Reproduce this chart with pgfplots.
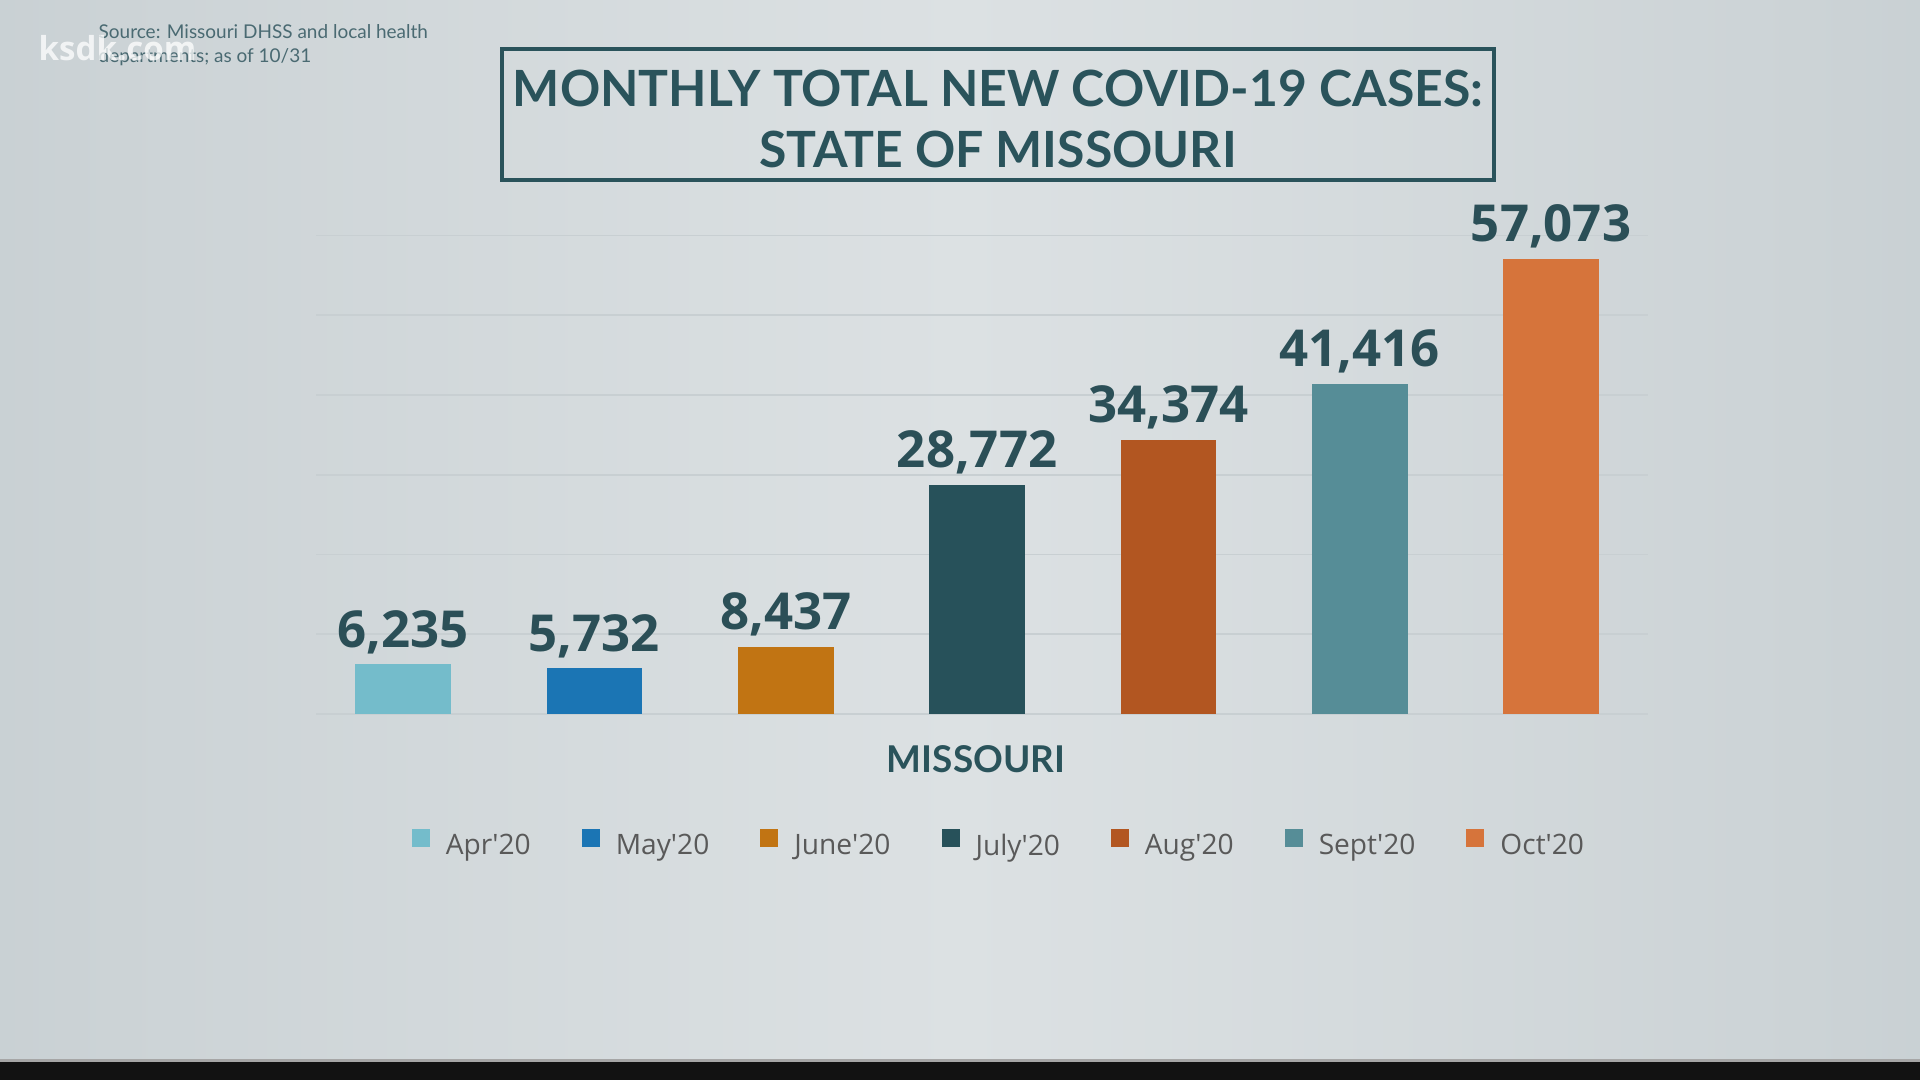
\documentclass[border=0pt]{standalone}
\usepackage{fontspec}
\setmainfont{Open Sans}
\newfontfamily\latofont{Lato}
\usepackage{pgfplots}
\pgfplotsset{compat=1.18}

\definecolor{bgA}{HTML}{A6B2B7}
\definecolor{bgB}{HTML}{B9C4C8}
\definecolor{bgC}{HTML}{CCD3D6}
\definecolor{bgD}{HTML}{DCE1E3}
\definecolor{gridc}{HTML}{C8CFD2}
\definecolor{titlec}{HTML}{2A535B}
\definecolor{lbl}{HTML}{2B4F57}
\definecolor{legtext}{HTML}{595959}
\definecolor{srcc}{HTML}{4A6A72}
\definecolor{cApr}{HTML}{74BCCB}
\definecolor{cMay}{HTML}{1B75B4}
\definecolor{cJun}{HTML}{C17413}
\definecolor{cJul}{HTML}{27515A}
\definecolor{cAug}{HTML}{B25621}
\definecolor{cSep}{HTML}{568D97}
\definecolor{cOct}{HTML}{D6743B}

\pgfdeclarehorizontalshading{bgshade}{100bp}{color(0bp)=(bgA); color(8bp)=(bgB); color(28bp)=(bgC); color(50bp)=(bgD); color(72bp)=(bgC); color(92bp)=(bgB); color(100bp)=(bgA)}

\begin{document}
\begin{tikzpicture}
\useasboundingbox (0,0) rectangle (19.2,10.8);
\shade[shading=bgshade] (0,0) rectangle (19.2,10.8);
\fill[black!93] (0,0) rectangle (19.2,0.19);
\draw[gray!70, line width=0.6pt] (0,0.195) -- (19.2,0.195);

\begin{axis}[
  at={(3.16cm,3.66cm)}, anchor=south west,
  scale only axis, width=13.32cm, height=4.785cm,
  xmin=-0.455, xmax=6.507, ymin=0, ymax=60000,
  clip=false,
  axis line style={draw=none}, tick style={draw=none},
  xtick=\empty, ytick={0,10000,...,60000}, yticklabels={},
  scaled y ticks=false,
  ymajorgrids, grid style={color=gridc, line width=0.45pt},
  ybar, bar width=0.5,
  nodes near coords,
  nodes near coords style={font=\fontsize{14.5}{17}\selectfont\bfseries, text=lbl, anchor=base, yshift=0.17cm, inner sep=0pt},
  /pgf/number format/1000 sep={,},
  /pgf/number format/assume math mode=true,
  legend columns=7,
  legend style={at={(axis description cs:0.512,-0.274)}, anchor=center,
    draw=none, fill=none, inner sep=0pt,
    font=\fontsize{8}{10}\selectfont, text=legtext,
    nodes={inner sep=0pt},
    /tikz/every odd column/.append style={column sep=0.16cm},
    /tikz/every even column/.append style={column sep=0.51cm}},
  legend image code/.code={\fill[#1] (0cm,0cm) rectangle (0.18cm,0.18cm);},
]
\addplot[fill=cApr, draw=none, bar shift=0pt] coordinates {(0,6235)};
\addlegendentry{Apr\textquotesingle20}
\addplot[fill=cMay, draw=none, bar shift=0pt] coordinates {(1,5732)};
\addlegendentry{May\textquotesingle20}
\addplot[fill=cJun, draw=none, bar shift=0pt] coordinates {(2,8437)};
\addlegendentry{June\textquotesingle20}
\addplot[fill=cJul, draw=none, bar shift=0pt] coordinates {(3,28772)};
\addlegendentry{July\textquotesingle20}
\addplot[fill=cAug, draw=none, bar shift=0pt] coordinates {(4,34374)};
\addlegendentry{Aug\textquotesingle20}
\addplot[fill=cSep, draw=none, bar shift=0pt] coordinates {(5,41416)};
\addlegendentry{Sept\textquotesingle20}
\addplot[fill=cOct, draw=none, bar shift=0pt] coordinates {(6,57073)};
\addlegendentry{Oct\textquotesingle20}
\end{axis}

% x label
\node[anchor=base, inner sep=0pt, font=\latofont\bfseries\fontsize{10.5}{13}\selectfont, text=titlec] at (9.76,3.07) {MISSOURI};

% title box
\draw[titlec, line width=0.035cm] (5.02,9.00) rectangle (14.94,10.31);
\node[anchor=base, inner sep=0pt, font=\latofont\bfseries\fontsize{14.2}{17}\selectfont, text=titlec] at (9.98,9.735) {MONTHLY TOTAL NEW COVID-19 CASES:};
\node[anchor=base, inner sep=0pt, font=\latofont\bfseries\fontsize{14.2}{17}\selectfont, text=titlec] at (9.98,9.12) {STATE OF MISSOURI};

% source note and watermark
\node[anchor=base west, inner sep=0pt, font=\latofont\fontsize{5.4}{7}\selectfont, text=srcc] at (0.98,10.41) {Source: Missouri DHSS and local health};
\node[anchor=base west, inner sep=0pt, font=\latofont\fontsize{5.4}{7}\selectfont, text=srcc] at (0.98,10.17) {departments; as of 10/31};
\node[anchor=base west, inner sep=0pt, font=\bfseries\fontsize{9.4}{11}\selectfont, text=white, opacity=0.75] at (0.38,10.19) {ksdk.com};
\end{tikzpicture}
\end{document}
